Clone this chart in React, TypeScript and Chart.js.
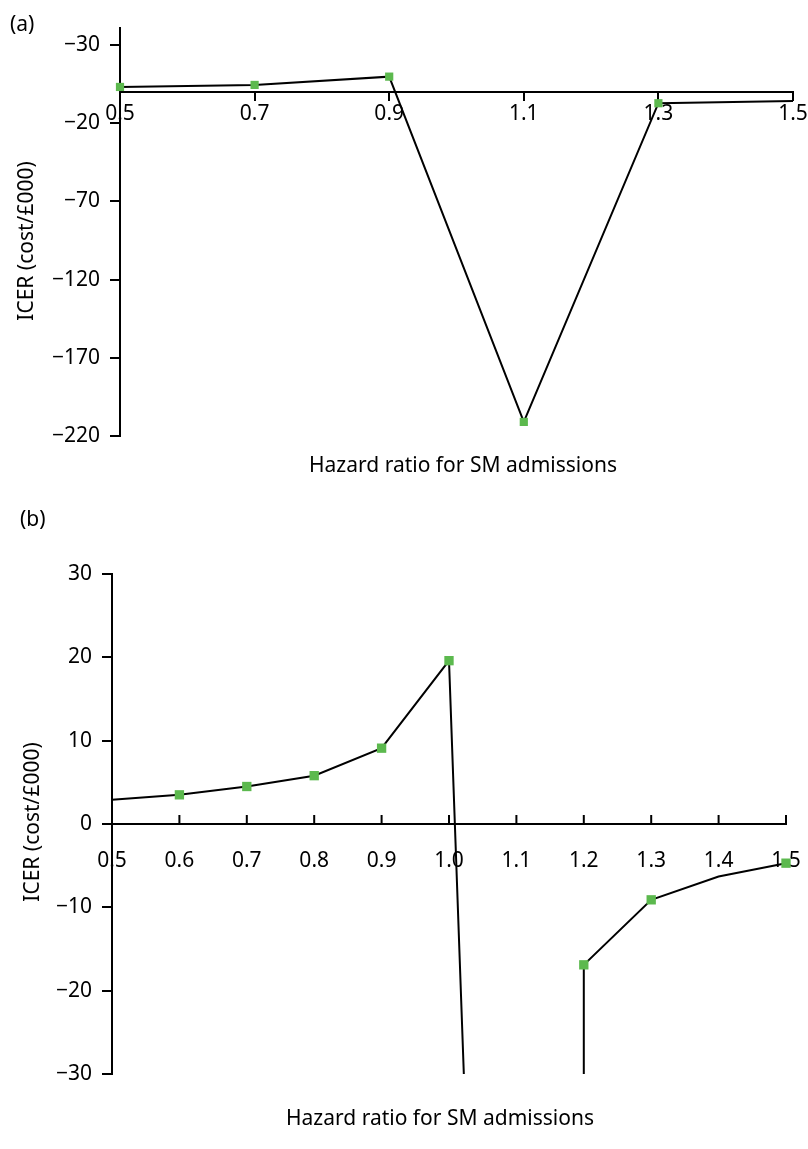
import { useEffect, useRef } from 'react';
import { Chart, registerables } from 'chart.js';

Chart.register(...registerables);

// ---- Panel (a): hazard ratio steps of 0.2 ----
const hazardA = [0.5, 0.7, 0.9, 1.1, 1.3, 1.5];
const icerA = [3.2, 4.5, 9.8, -211, -7.2, -5.8];
const markedA = [true, true, true, true, true, false];
const xTicksA = [0.5, 0.7, 0.9, 1.1, 1.3, 1.5];
const xTickLabelsA = ['0.5', '0.7', '0.9', '1.1', '1.3', '1.5'];
const yTicksA = [30, -20, -70, -120, -170, -220];
const yTickLabelsA = ['−30', '−20', '−70', '−120', '−170', '−220'];

// ---- Panel (b): hazard ratio steps of 0.1, curve breaks around 1.0–1.2 ----
const hazardB = [0.5, 0.6, 0.7, 0.8, 0.9, 1.0, 1.022, 1.1, 1.2, 1.2, 1.3, 1.4, 1.5];
const icerB = [2.9, 3.5, 4.5, 5.8, 9.1, 19.6, -30, null, -30, -16.9, -9.1, -6.3, -4.7];
const markedB = [false, true, true, true, true, true, false, false, false, true, true, false, true];
const xTicksB = [0.5, 0.6, 0.7, 0.8, 0.9, 1.0, 1.1, 1.2, 1.3, 1.4, 1.5];
const xTickLabelsB = ['0.5', '0.6', '0.7', '0.8', '0.9', '1.0', '1.1', '1.2', '1.3', '1.4', '1.5'];
const yTicksB = [30, 20, 10, 0, -10, -20, -30];
const yTickLabelsB = ['30', '20', '10', '0', '−10', '−20', '−30'];

const X_TITLE = 'Hazard ratio for SM admissions';
const Y_TITLE = 'ICER (cost/£000)';

const FONT = '"Noto Sans", sans-serif';
const FONT_SIZE = 21;
const INK = '#000000';
const GREEN = '#5cb94e';

// Panel tag and axis titles drawn onto the canvas
const panelText = {
  id: 'panelText',
  afterDraw(chart: any, _args: any, opts: any) {
    const { ctx } = chart;
    ctx.save();
    ctx.fillStyle = INK;
    ctx.font = `${FONT_SIZE}px ${FONT}`;
    ctx.textBaseline = 'alphabetic';
    ctx.textAlign = 'left';
    ctx.fillText(opts.tag, opts.tagX, opts.tagY);
    ctx.textAlign = 'center';
    ctx.fillText(X_TITLE, opts.xTitleX, opts.xTitleY);
    ctx.translate(opts.yTitleX, opts.yTitleY);
    ctx.rotate(-Math.PI / 2);
    ctx.fillText(Y_TITLE, 0, 0);
    ctx.restore();
  },
};

// Tick marks pointing up from a zero-line x axis
const innerTicks = {
  id: 'innerTicks',
  beforeDatasetsDraw(chart: any, _args: any, opts: any) {
    if (!opts || !opts.length) return;
    const { ctx } = chart;
    const xs = chart.scales.x;
    const base = chart.scales.y.getPixelForValue(0);
    ctx.save();
    ctx.strokeStyle = INK;
    ctx.lineWidth = 2;
    ctx.beginPath();
    xs.ticks.forEach((t: any) => {
      const px = xs.getPixelForValue(t.value);
      ctx.moveTo(px, base);
      ctx.lineTo(px, base - opts.length);
    });
    ctx.stroke();
    ctx.restore();
  },
};

function panelConfig(p: any): any {
  return {
    type: 'line',
    data: {
      datasets: [
        {
          data: p.hazard.map((x: number, i: number) => ({ x, y: p.icer[i] })),
          borderColor: INK,
          borderWidth: 2,
          tension: 0,
          spanGaps: false,
          fill: false,
          clip: false,
          pointStyle: 'rect',
          pointRadius: (c: any) => (p.marked[c.dataIndex] ? p.markerRadius : 0),
          pointBackgroundColor: GREEN,
          pointBorderWidth: 0,
        },
      ],
    },
    options: {
      responsive: false,
      animation: false,
      devicePixelRatio: 1,
      events: [],
      layout: { padding: p.padding },
      plugins: {
        legend: { display: false },
        tooltip: { enabled: false },
        panelText: p.text,
        innerTicks: { length: p.upTick },
      },
      scales: {
        x: {
          type: 'linear',
          min: 0.5,
          max: 1.5,
          position: { y: 0 },
          afterBuildTicks: (s: any) => {
            s.ticks = p.xTicks.map((v: number) => ({ value: v }));
          },
          afterFit: (s: any) => {
            s.paddingLeft = 0;
            s.paddingRight = 0;
          },
          grid: {
            display: true,
            drawOnChartArea: false,
            drawTicks: p.downTick > 0,
            tickLength: p.downTick,
            color: INK,
            lineWidth: 2,
          },
          border: { display: true, color: INK, width: 2 },
          ticks: {
            autoSkip: false,
            maxRotation: 0,
            minRotation: 0,
            padding: p.xLabelPad,
            color: INK,
            font: { family: FONT, size: FONT_SIZE },
            callback: (v: number) => p.xTickLabels[p.xTicks.indexOf(v)] ?? '',
          },
        },
        y: {
          type: 'linear',
          position: 'left',
          min: p.yMin,
          max: p.yMax,
          afterBuildTicks: (s: any) => {
            s.ticks = p.yTicks.map((v: number) => ({ value: v }));
          },
          afterFit: (s: any) => {
            s.width = p.yAxisWidth;
            s.paddingTop = 0;
            s.paddingBottom = 0;
          },
          grid: {
            display: true,
            drawOnChartArea: false,
            drawTicks: true,
            tickLength: 10,
            color: INK,
            lineWidth: 2,
          },
          border: { display: true, color: INK, width: 2 },
          ticks: {
            padding: 10,
            color: INK,
            font: { family: FONT, size: FONT_SIZE },
            callback: (v: number) => p.yTickLabels[p.yTicks.indexOf(v)] ?? '',
          },
        },
      },
    },
    plugins: [panelText, innerTicks],
  };
}

export default function App() {
  const refA = useRef<HTMLCanvasElement>(null);
  const refB = useRef<HTMLCanvasElement>(null);

  useEffect(() => {
    const chartA = new Chart(
      refA.current as HTMLCanvasElement,
      panelConfig({
        hazard: hazardA,
        icer: icerA,
        marked: markedA,
        markerRadius: 5.8,
        xTicks: xTicksA,
        xTickLabels: xTickLabelsA,
        yTicks: yTicksA,
        yTickLabels: yTickLabelsA,
        yMin: -220,
        yMax: 40.9,
        yAxisWidth: 120,
        padding: { left: 0, right: 15, top: 28, bottom: 54 },
        downTick: 8,
        upTick: 0,
        xLabelPad: 1,
        text: { tag: '(a)', tagX: 10, tagY: 31, xTitleX: 463, xTitleY: 472, yTitleX: 33, yTitleY: 241 },
      })
    );
    const chartB = new Chart(
      refB.current as HTMLCanvasElement,
      panelConfig({
        hazard: hazardB,
        icer: icerB,
        marked: markedB,
        markerRadius: 6.6,
        xTicks: xTicksB,
        xTickLabels: xTickLabelsB,
        yTicks: yTicksB,
        yTickLabels: yTickLabelsB,
        yMin: -30,
        yMax: 30,
        yAxisWidth: 112,
        padding: { left: 0, right: 22, top: 84, bottom: 75 },
        downTick: 0,
        upTick: 9,
        xLabelPad: 24,
        text: { tag: '(b)', tagX: 20, tagY: 36, xTitleX: 440, xTitleY: 635, yTitleX: 39, yTitleY: 332 },
      })
    );
    return () => {
      chartA.destroy();
      chartB.destroy();
    };
  }, []);

  return (
    <div style={{ position: 'absolute', left: 0, top: 0, width: 808, height: 1149, background: '#ffffff' }}>
      <canvas
        ref={refA}
        width={808}
        height={490}
        style={{ position: 'absolute', left: 0, top: 0, width: 808, height: 490, display: 'block' }}
      />
      <canvas
        ref={refB}
        width={808}
        height={659}
        style={{ position: 'absolute', left: 0, top: 490, width: 808, height: 659, display: 'block' }}
      />
    </div>
  );
}
